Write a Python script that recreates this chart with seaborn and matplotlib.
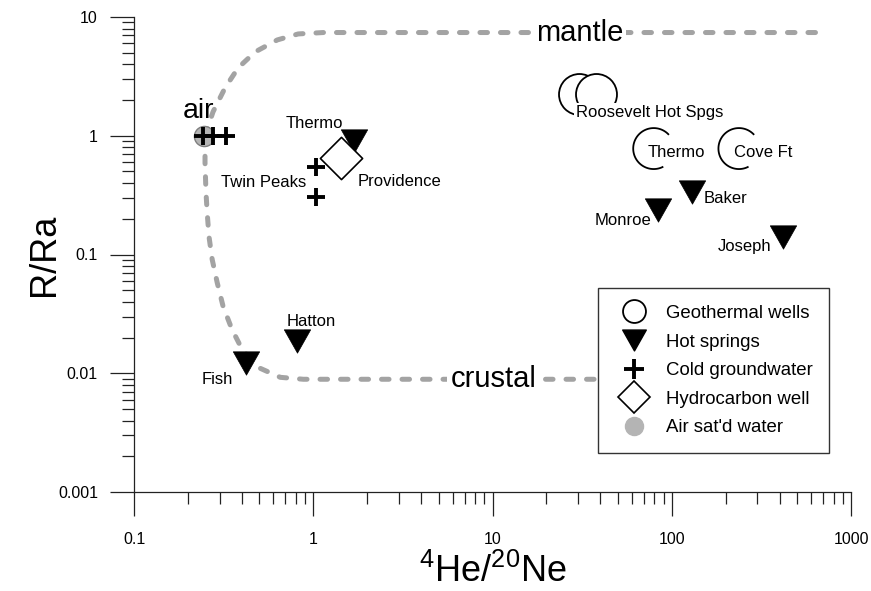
import numpy as np
import pandas as pd
import matplotlib
matplotlib.use("Agg")
import matplotlib.pyplot as plt
import seaborn as sns
from matplotlib.path import Path
from matplotlib.lines import Line2D

# ---------------- data ----------------
mantle_x = [0.249, 0.276, 0.322, 0.381, 0.474, 0.63, 0.824, 1.14, 745]
mantle_y = [1.0, 1.59, 2.53, 3.73, 5.08, 6.41, 7.2, 7.4, 7.4]

crustal_x = [0.249, 0.249, 0.252, 0.256, 0.262, 0.273, 0.291, 0.314, 0.352,
             0.401, 0.493, 0.655, 0.88, 38.7]
crustal_y = [1.0, 0.593, 0.338, 0.225, 0.142, 0.0908, 0.0582, 0.0366, 0.0234,
             0.0159, 0.0112, 0.00924, 0.0089, 0.0089]

roosevelt_x = [30.2, 37.6]
roosevelt_y = [2.25, 2.25]
geo_names = ["Thermo", "Cove Ft"]
geo_x = [79.3, 237.0]
geo_y = [0.78, 0.78]

hot_names = ["Thermo", "Hatton", "Fish", "Monroe", "Baker", "Joseph"]
hot_x = [1.69, 0.815, 0.423, 83.5, 129.0, 417.0]
hot_y = [0.90, 0.0186, 0.0121, 0.239, 0.338, 0.1416]

cold_x = [0.243, 0.276, 0.327, 1.04, 1.04]
cold_y = [1.0, 1.0, 1.0, 0.548, 0.307]

hydro_x = [1.43]
hydro_y = [0.65]

air_x = [0.245]
air_y = [1.0]

x_ticks = [0.1, 1, 10, 100, 1000]
x_tick_labels = ["0.1", "1", "10", "100", "1000"]
y_ticks = [0.001, 0.01, 0.1, 1, 10]
y_tick_labels = ["0.001", "0.01", "0.1", "1", "10"]

legend_labels = ["Geothermal wells", "Hot springs", "Cold groundwater",
                 "Hydrocarbon well", "Air sat'd water"]

# ---------------- style ----------------
sns.set_theme(style="ticks")
plt.rcParams['font.family'] = ['Liberation Sans', 'DejaVu Sans']
plt.rcParams['mathtext.default'] = 'regular'
plt.rcParams['text.color'] = 'black'
plt.rcParams['axes.labelcolor'] = 'black'
plt.rcParams['xtick.color'] = 'black'
plt.rcParams['ytick.color'] = 'black'

PX = 0.72  # points per pixel at 100 dpi

fig = plt.figure(figsize=(8.71, 5.91), dpi=100)
ax = fig.add_axes([134 / 871, 1 - 492 / 591, 717 / 871, 475 / 591])
ax.set_xscale('log')
ax.set_yscale('log')
ax.set_xlim(0.1, 1000)
ax.set_ylim(0.001, 10)

# mixing curves
curve_color = '#a3a3a3'
for cx, cy in ((mantle_x, mantle_y), (crustal_x, crustal_y)):
    ln, = ax.plot(cx, cy, color=curve_color, lw=3.6, zorder=1)
    ln.set_dashes((1.5, 2.6))
    ln.set_dash_capstyle('round')

# markers
tri = Path([(-1, 0.885), (1, 0.885), (0, -0.885), (-1, 0.885)], closed=True)
t = np.linspace(np.deg2rad(42), np.deg2rad(298), 80)
arc = Path(np.column_stack([np.cos(t), np.sin(t)]))

sns.scatterplot(x=air_x, y=air_y, ax=ax, marker='o', s=(14.5) ** 2,
                color='#b4b4b4', edgecolor='#808080', linewidth=1.0, zorder=3)
sns.scatterplot(x=cold_x, y=cold_y, ax=ax, marker='+', s=(12.5) ** 2,
                color='black', linewidth=2.8, zorder=4)
sns.scatterplot(x=hot_x, y=hot_y, ax=ax, marker=tri, s=(19) ** 2,
                color='black', edgecolor='black', linewidth=0.5, zorder=4)
sns.scatterplot(x=hydro_x, y=hydro_y, ax=ax, marker='D', s=(21.5) ** 2,
                facecolor='white', edgecolor='black', linewidth=1.2, zorder=5)
sns.scatterplot(x=roosevelt_x, y=roosevelt_y, ax=ax, marker='o', s=(29.5) ** 2,
                facecolor='white', edgecolor='black', linewidth=1.3, zorder=4)
sns.scatterplot(x=geo_x, y=geo_y, ax=ax, marker=arc, s=(29.5) ** 2,
                facecolor='none', edgecolor='black', linewidth=1.3, zorder=4)

# point labels
lab_fs = 12
def label(text, x, y, dx, dy, ha, **kw):
    ax.annotate(text, xy=(x, y), xytext=(dx * PX, dy * PX),
                textcoords='offset points', ha=ha, va='baseline',
                fontsize=kw.pop('fontsize', lab_fs), zorder=6, **kw)

label(hot_names[0], hot_x[0], hot_y[0], -11, 13.5, 'right')
label(hot_names[1], hot_x[1], hot_y[1], -11, 15, 'left')
label(hot_names[2], hot_x[2], hot_y[2], -13, -21, 'right')
label(hot_names[3], hot_x[3], hot_y[3], -6, -15, 'right')
label(hot_names[4], hot_x[4], hot_y[4], 12, -11, 'left')
label(hot_names[5], hot_x[5], hot_y[5], -12, -14, 'right')
label("Twin Peaks", cold_x[3], cold_y[3], -10, -20, 'right')
label("Providence", hydro_x[0], hydro_y[0], 17, -28, 'left')
label("Roosevelt Hot Spgs", roosevelt_x[0], roosevelt_y[0], -3, -23, 'left',
      bbox=dict(boxstyle='square,pad=0.12', fc='white', ec='none'))
label(geo_names[0], geo_x[0], geo_y[0], -6, -8, 'left')
label(geo_names[1], geo_x[1], geo_y[1], -5, -8, 'left')
label("air", air_x[0], air_y[0], -5, 18, 'center', fontsize=20.5)

ax.text(30.6, 7.4, "mantle", ha='center', va='center', fontsize=21, zorder=6,
        bbox=dict(boxstyle='square,pad=0.1', fc='white', ec='none'))
ax.text(10.1, 0.0089, "crustal", ha='center', va='center', fontsize=21, zorder=6,
        bbox=dict(boxstyle='square,pad=0.1', fc='white', ec='none'))

# axes styling
sns.despine(ax=ax)
for s in ('left', 'bottom'):
    ax.spines[s].set_linewidth(0.9)
    ax.spines[s].set_color('#222222')
ax.set_xticks(x_ticks)
ax.set_xticklabels(x_tick_labels)
ax.set_yticks(y_ticks)
ax.set_yticklabels(y_tick_labels)
ax.tick_params(which='major', direction='out', length=17, width=0.9,
               color='#222222', labelsize=11.5, labelcolor='black')
ax.tick_params(which='minor', direction='out', length=8.5, width=0.9,
               color='#222222')
ax.tick_params(axis='x', which='major', pad=12)
ax.tick_params(axis='y', which='major', pad=9)
ax.xaxis.set_minor_locator(matplotlib.ticker.LogLocator(base=10, subs=np.arange(2, 10), numticks=20))
ax.yaxis.set_minor_locator(matplotlib.ticker.LogLocator(base=10, subs=np.arange(2, 10), numticks=20))
ax.xaxis.set_minor_formatter(matplotlib.ticker.NullFormatter())
ax.yaxis.set_minor_formatter(matplotlib.ticker.NullFormatter())

ax.set_xlabel(r"$^{4}$He/$^{20}$Ne", fontsize=26, labelpad=5, color='black')
ax.set_ylabel("R/Ra", fontsize=26, labelpad=-3, color='black')

# legend
handles = [
    Line2D([], [], ls='none', marker='o', ms=16.5, mfc='white', mec='black', mew=1.3),
    Line2D([], [], ls='none', marker=tri, ms=17, mfc='black', mec='black'),
    Line2D([], [], ls='none', marker='+', ms=14, mec='black', mew=2.8),
    Line2D([], [], ls='none', marker='D', ms=16, mfc='white', mec='black', mew=1.2),
    Line2D([], [], ls='none', marker='o', ms=13, mfc='#b4b4b4', mec='#b4b4b4'),
]
leg = ax.legend(handles, legend_labels, loc='lower left',
                bbox_to_anchor=((598 - 134) / 717, (492 - 453) / 475),
                borderaxespad=0, fontsize=13.4, frameon=True, fancybox=False,
                framealpha=1, edgecolor='#333333', borderpad=0.9,
                labelspacing=0.62, handlelength=2.1, handletextpad=0.65)
leg.get_frame().set_linewidth(1.0)
for txt in leg.get_texts():
    txt.set_color('black')
leg.set_zorder(10)

fig.savefig("out.png", dpi=100)
